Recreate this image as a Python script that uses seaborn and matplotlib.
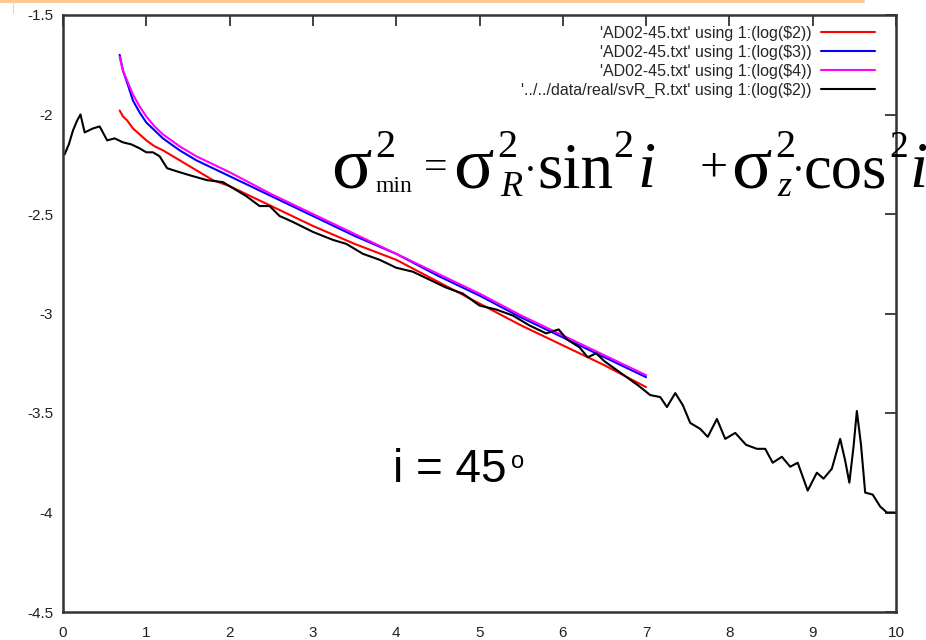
import matplotlib
matplotlib.use("Agg")
import matplotlib.pyplot as plt
import seaborn as sns

# --- data -----------------------------------------------------------------
model_x = [0.68, 0.72, 0.77, 0.84, 0.92, 1.0, 1.1, 1.2, 1.4, 1.6, 1.8, 2.0,
           2.5, 3.0, 3.5, 4.0, 4.5, 5.0, 5.5, 6.0, 6.5, 7.0]
log_s2 = [-1.98, -2.01, -2.03, -2.07, -2.10, -2.13, -2.16, -2.18, -2.23, -2.28,
          -2.33, -2.36, -2.46, -2.56, -2.65, -2.73, -2.84, -2.95, -3.06, -3.16,
          -3.26, -3.37]
log_s3 = [-1.70, -1.78, -1.84, -1.93, -1.99, -2.04, -2.08, -2.12, -2.18, -2.23,
          -2.27, -2.31, -2.41, -2.51, -2.61, -2.70, -2.81, -2.91, -3.02, -3.12,
          -3.22, -3.32]
log_s4 = [-1.71, -1.78, -1.83, -1.90, -1.96, -2.01, -2.06, -2.10, -2.16, -2.21,
          -2.25, -2.29, -2.40, -2.50, -2.60, -2.70, -2.80, -2.90, -3.01, -3.11,
          -3.21, -3.31]

obs_x = [0.02, 0.07, 0.12, 0.17, 0.21, 0.26, 0.31, 0.36, 0.44, 0.53, 0.62, 0.72,
         0.82, 0.92, 1.00, 1.08, 1.16, 1.25, 1.40, 1.56, 1.73, 1.92, 2.04, 2.20,
         2.36, 2.48, 2.60, 2.76, 3.00, 3.24, 3.40, 3.60, 3.80, 4.00, 4.20, 4.40,
         4.60, 4.80, 5.00, 5.20, 5.40, 5.60, 5.80, 5.95, 6.05, 6.20, 6.30, 6.40,
         6.50, 6.70, 6.90, 7.05, 7.17, 7.25, 7.35, 7.44, 7.53, 7.65, 7.74, 7.85,
         7.95, 8.07, 8.20, 8.33, 8.43, 8.52, 8.63, 8.73, 8.82, 8.94, 9.05, 9.13,
         9.23, 9.33, 9.39, 9.44, 9.49, 9.53, 9.58, 9.63, 9.72, 9.81, 9.89, 9.99]
obs_y = [-2.20, -2.15, -2.08, -2.03, -2.00, -2.09, -2.08, -2.07, -2.06, -2.13,
         -2.12, -2.14, -2.15, -2.17, -2.19, -2.19, -2.21, -2.27, -2.29, -2.31,
         -2.33, -2.34, -2.37, -2.41, -2.46, -2.46, -2.51, -2.54, -2.59, -2.63,
         -2.65, -2.70, -2.73, -2.77, -2.79, -2.83, -2.87, -2.90, -2.96, -2.98,
         -3.01, -3.06, -3.10, -3.08, -3.13, -3.17, -3.22, -3.20, -3.24, -3.30,
         -3.36, -3.41, -3.42, -3.47, -3.40, -3.46, -3.55, -3.58, -3.62, -3.53,
         -3.63, -3.60, -3.66, -3.68, -3.68, -3.75, -3.72, -3.77, -3.75, -3.89,
         -3.80, -3.83, -3.78, -3.63, -3.74, -3.85, -3.67, -3.49, -3.66, -3.90,
         -3.91, -3.97, -4.00, -4.00]

labels = ["'AD02-45.txt' using 1:(log($2))",
          "'AD02-45.txt' using 1:(log($3))",
          "'AD02-45.txt' using 1:(log($4))",
          "'../../data/real/svR_R.txt' using 1:(log($2))"]
colors = ["#ff0000", "#0000ff", "#ff00ff", "#000000"]

x_ticks = [0, 1, 2, 3, 4, 5, 6, 7, 8, 9, 10]
y_ticks = [-4.5, -4, -3.5, -3, -2.5, -2, -1.5]
y_ticklabels = ["-4.5", "-4", "-3.5", "-3", "-2.5", "-2", "-1.5"]

# --- style ----------------------------------------------------------------
sns.set_style("white")
plt.rcParams["font.family"] = ["Liberation Sans", "DejaVu Sans"]

W, H = 926, 640
fig = plt.figure(figsize=(W / 100, H / 100), dpi=100)
ax = fig.add_axes([63 / W, 1 - 612 / H, (896 - 63) / W, (612 - 15) / H])

lw = 1.5
for ys, c, lab in zip([log_s2, log_s3, log_s4], colors[:3], labels[:3]):
    sns.lineplot(x=model_x, y=ys, color=c, lw=lw, label=lab, ax=ax)
sns.lineplot(x=obs_x, y=obs_y, color=colors[3], lw=lw, label=labels[3], ax=ax)

ax.set_xlim(0, 10)
ax.set_ylim(-4.5, -1.5)
ax.set_xticks(x_ticks)
ax.set_xticklabels([str(t) for t in x_ticks])
ax.set_yticks(y_ticks)
ax.set_yticklabels(y_ticklabels)
ax.tick_params(direction="in", length=8, width=1.3, color="#333333",
               top=True, right=True, labelsize=11, labelcolor="#222222")
ax.tick_params(axis="x", pad=10)
ax.tick_params(axis="y", pad=7)
for sp in ax.spines.values():
    sp.set_linewidth(1.8)
    sp.set_color("#333333")
ax.set_xlabel("")
ax.set_ylabel("")

leg = ax.legend(loc="upper right", bbox_to_anchor=(1 - 21 / 833, 1 - 11 / 597),
                frameon=False, markerfirst=False, fontsize=11.5,
                handlelength=3.4, handletextpad=0.55, labelspacing=0.24,
                borderaxespad=0, borderpad=0)
for t in leg.get_texts():
    t.set_horizontalalignment("right")


def put(x, y, s, size, style="normal", family="Liberation Serif"):
    """Place a text piece with its left/baseline at pixel (x, y)."""
    fig.text(x / W, 1 - y / H, s, fontsize=size, family=family,
             style=style, ha="left", va="baseline", color="black")


# annotation: line-of-sight dispersion formula
sig, big, sup, sub = 54, 47, 29, 26
put(331, 187, "σ", sig)
put(375, 157, "2", sup)
put(376, 192, "min", 17)
put(424, 179, "=", 30)
put(453, 187, "σ", sig)
put(497, 157, "2", sup)
put(500, 196, "R", sub, "italic")
put(524, 182, "·", 28)
put(537, 187, "sin", big)
put(613, 157, "2", sup)
put(637, 187, "i", big, "italic")
put(699, 181, "+", 36)
put(731, 187, "σ", sig)
put(775, 157, "2", sup)
put(777, 196, "z", sub, "italic")
put(792, 182, "·", 28)
put(804, 187, "cos", 45)
put(889, 157, "2", 27)
put(909, 187, "i", big, "italic")

put(393, 482, "i = 45", 33, family="Liberation Sans")
put(511, 468, "o", 17, family="Liberation Sans")

# slide decoration strokes along the top edge
fig.add_artist(plt.Line2D([0, 863 / W], [1 - 1 / H, 1 - 1 / H],
                          transform=fig.transFigure, color="#fbc990", lw=2.2))
fig.add_artist(plt.Line2D([13 / W, 13 / W], [1, 1 - 13 / H],
                          transform=fig.transFigure, color="#fbd3a6", lw=0.8))

fig.savefig("out.png", dpi=100)
